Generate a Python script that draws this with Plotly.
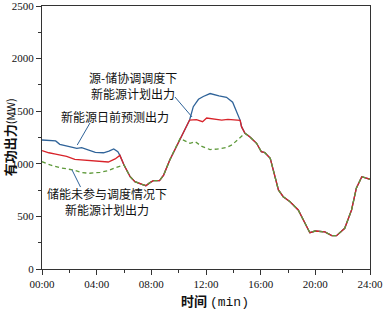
import plotly.graph_objects as go

# ---- data (hours, MW) ----
red_t = [0, 0.5, 1.0, 1.45, 1.8, 2.4, 3.5, 4.25, 4.85, 5.35, 5.7, 6.0, 6.45, 6.8, 7.3, 7.6,
         7.9, 8.15, 8.6, 8.9, 9.35, 9.85, 10.1, 10.45, 10.8, 11.3, 11.75, 12.05, 12.5, 13.15,
         13.6, 14.5, 14.6, 14.85, 15.2, 15.7, 16.05, 16.3, 16.7, 17.05, 17.3, 17.65, 18.15,
         18.75, 19.6, 20.0, 20.7, 21.2, 21.55, 22.15, 22.65, 23.0, 23.4, 24.0]
red_v = [1125, 1105, 1093, 1084, 1071, 1043, 1033, 1027, 1017, 1046, 1080, 989, 877, 830, 805, 792,
         821, 840, 840, 893, 1036, 1163, 1240, 1321, 1416, 1419, 1400, 1435, 1426, 1416,
         1423, 1413, 1353, 1290, 1258, 1195, 1115, 1106, 1052, 862, 751, 687, 640,
         561, 345, 361, 352, 317, 317, 387, 561, 767, 877, 853]

blue_am_t = [0, 0.45, 1.0, 1.3, 1.9, 2.55, 2.9, 3.25, 3.9, 4.5, 4.9, 5.25, 5.55, 5.7]
blue_am_v = [1226, 1223, 1217, 1185, 1166, 1147, 1153, 1138, 1109, 1105, 1120, 1141, 1115, 1080]
blue_pm_t = [10.8, 11.07, 11.45, 11.8, 12.3, 12.95, 13.5, 13.95, 14.5]
blue_pm_v = [1416, 1543, 1613, 1640, 1668, 1645, 1632, 1585, 1413]

green_am_t = [0, 0.6, 1.3, 2.3, 2.9, 3.5, 4.25, 4.85, 5.45, 5.9]
green_am_v = [1020, 989, 963, 941, 916, 910, 919, 935, 967, 990]
green_pm_t = [10.1, 10.83, 11.2, 11.7, 12.3, 12.8, 13.5, 13.9, 14.3, 14.85]
green_pm_v = [1240, 1195, 1211, 1165, 1135, 1140, 1155, 1180, 1230, 1290]

tick_hours = [0, 4, 8, 12, 16, 20, 24]
tick_text = ["00:00", "04:00", "08:00", "12:00", "16:00", "20:00", "24:00"]


def merge(base_t, base_v, segs):
    """Replace base series in the ranges covered by segments."""
    pts = []
    for t, v in zip(base_t, base_v):
        if not any(s[0][0] <= t <= s[0][-1] for s in segs):
            pts.append((t, v))
    for st, sv in segs:
        pts.extend(zip(st, sv))
    pts.sort(key=lambda p: p[0])
    return [p[0] for p in pts], [p[1] for p in pts]


blue_t, blue_v = merge(red_t, red_v, [(blue_am_t, blue_am_v), (blue_pm_t, blue_pm_v)])
green_t, green_v = merge(red_t, red_v, [(green_am_t, green_am_v), (green_pm_t, green_pm_v)])

BLUE = "#2f6399"
RED = "#d8232a"
GREEN = "#5f9a3c"

fig = go.Figure()
fig.add_trace(go.Scatter(x=blue_t, y=blue_v, mode="lines",
                         line=dict(color=BLUE, width=1.3), showlegend=False))
fig.add_trace(go.Scatter(x=red_t, y=red_v, mode="lines",
                         line=dict(color=RED, width=1.3), showlegend=False))
fig.add_trace(go.Scatter(x=green_t, y=green_v, mode="lines",
                         line=dict(color=GREEN, width=1.3, dash="4px,3px"), showlegend=False))

CJK = "Noto Sans CJK SC"
SERIF = "'Liberation Serif', 'DejaVu Serif', serif"

# leader lines
leaders = [((9.73, 1635), (10.98, 1445)),
           ((3.51, 1388), (2.58, 1179)),
           ((2.2, 941), (2.82, 779))]
for (x0, y0), (x1, y1) in leaders:
    fig.add_shape(type="line", xref="x", yref="y", x0=x0, y0=y0, x1=x1, y1=y1,
                  line=dict(color=BLUE, width=1))

labels = [(6.66, 1749, "源-储协调调度下<br>新能源计划出力"),
          (5.34, 1445, "新能源日前预测出力"),
          (4.76, 646, "储能未参与调度情况下<br>新能源计划出力")]
for x, y, txt in labels:
    fig.add_annotation(x=x, y=y, xref="x", yref="y", text=txt, showarrow=False,
                       font=dict(family=CJK, size=12, color="#111"), align="center")

fig.add_annotation(x=0.527, y=-0.118, xref="paper", yref="paper",
                   text="<b>时间</b> <span style=\"font-family:'Liberation Mono'\">(min)</span>",
                   showarrow=False, font=dict(family=CJK, size=13, color="#111"),
                   xanchor="center", yanchor="middle")
fig.add_annotation(x=-0.098, y=0.5, xref="paper", yref="paper", textangle=-90,
                   text="<b>有功出力</b><span style='font-size:11px'>(MW)</span>",
                   showarrow=False, font=dict(family=CJK, size=13, color="#111"),
                   xanchor="center", yanchor="middle")

axis_common = dict(showline=True, linecolor="#333", linewidth=1, mirror=True,
                   ticks="outside", ticklen=5, tickcolor="#333", showgrid=False,
                   zeroline=False, automargin=False, ticklabeloverflow="allow",
                   tickfont=dict(family=SERIF, size=11, color="#111"))

fig.update_xaxes(range=[0, 24], tickvals=tick_hours, ticktext=tick_text,
                 minor=dict(dtick=2, tick0=0, ticks="outside", ticklen=3, tickcolor="#333"),
                 **axis_common)
fig.update_yaxes(range=[0, 2500], dtick=500, tick0=0,
                 minor=dict(dtick=250, tick0=0, ticks="outside", ticklen=3, tickcolor="#333"),
                 **axis_common)

fig.update_layout(width=392, height=310, margin=dict(l=42, r=22, t=6, b=41),
                  paper_bgcolor="white", plot_bgcolor="white")

fig.write_html("out.html", config={"displayModeBar": False},
               post_script="document.body.style.margin='0';document.body.style.overflow='hidden';")
